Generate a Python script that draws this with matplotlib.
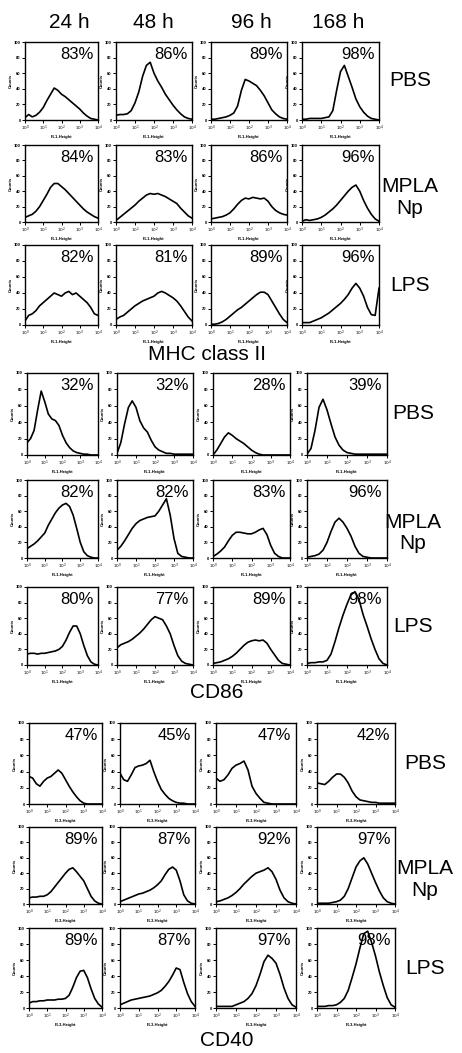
import matplotlib.pyplot as plt
import numpy as np

plt.rcParams['font.family'] = ['Liberation Sans', 'DejaVu Sans']

# column / row / block labels
times = ["24 h", "48 h", "96 h", "168 h"]
treatments = ["PBS", "MPLA\nNp", "LPS"]
markers = ["MHC class II", "CD86", "CD40"]
channels = ["FL1-Height", "FL1-Height", "FL3-Height"]

# fluorescence position in decades (10^0 .. 10^4), read every 0.2 decade
decades = [0.0, 0.2, 0.4, 0.6, 0.8, 1.0, 1.2, 1.4, 1.6, 1.8, 2.0,
           2.2, 2.4, 2.6, 2.8, 3.0, 3.2, 3.4, 3.6, 3.8, 4.0]

# percent positive cells, [treatment][time]
mhc_pct = [[83, 86, 89, 98], [84, 83, 86, 96], [82, 81, 89, 96]]
cd86_pct = [[32, 32, 28, 39], [82, 82, 83, 96], [80, 77, 89, 98]]
cd40_pct = [[47, 45, 47, 42], [89, 87, 92, 97], [89, 87, 97, 98]]

# histogram counts (% of axis max), [time][bin]
mhc_pbs = [
    [3, 7, 4, 6, 10, 16, 25, 33, 41, 38, 33, 30, 26, 22, 18, 14, 9, 5, 2, 1, 0],
    [6, 7, 7, 8, 12, 22, 36, 56, 70, 74, 60, 50, 42, 33, 26, 19, 13, 8, 4, 2, 1],
    [1, 1, 2, 3, 4, 6, 9, 18, 38, 52, 50, 47, 44, 38, 31, 22, 13, 8, 4, 2, 1],
    [1, 1, 2, 2, 2, 2, 3, 4, 12, 38, 62, 70, 56, 42, 27, 17, 10, 5, 2, 1, 0],
]
mhc_mpla = [
    [6, 8, 10, 14, 20, 28, 36, 45, 50, 50, 46, 42, 37, 32, 27, 22, 17, 13, 10, 7, 5],
    [2, 6, 10, 14, 18, 22, 27, 31, 35, 37, 36, 37, 35, 33, 30, 27, 24, 18, 13, 8, 5],
    [4, 5, 6, 7, 9, 12, 17, 23, 28, 31, 30, 32, 31, 30, 31, 27, 20, 15, 12, 10, 9],
    [1, 3, 2, 3, 4, 6, 9, 13, 17, 22, 28, 34, 40, 45, 48, 40, 28, 18, 10, 4, 1],
]
mhc_lps = [
    [5, 12, 14, 18, 24, 28, 32, 36, 40, 38, 36, 40, 42, 38, 40, 36, 32, 28, 22, 14, 12],
    [7, 10, 12, 16, 20, 24, 27, 30, 32, 34, 36, 40, 42, 40, 37, 34, 30, 24, 17, 10, 5],
    [1, 1, 2, 4, 7, 11, 15, 19, 22, 26, 30, 34, 38, 41, 41, 38, 30, 22, 14, 7, 3],
    [3, 3, 3, 5, 7, 9, 12, 15, 19, 23, 27, 32, 38, 46, 52, 46, 36, 22, 13, 12, 46],
]
cd86_pbs = [
    [15, 20, 30, 55, 78, 65, 50, 44, 42, 36, 24, 15, 9, 5, 3, 2, 1, 1, 0, 0, 0],
    [2, 15, 38, 58, 66, 58, 42, 33, 28, 18, 10, 6, 4, 2, 2, 1, 1, 1, 1, 1, 1],
    [0, 6, 14, 22, 27, 24, 20, 17, 14, 10, 6, 3, 1, 0, 0, 0, 0, 0, 0, 0, 0],
    [1, 8, 30, 58, 68, 55, 38, 22, 12, 6, 3, 2, 1, 1, 1, 1, 1, 1, 1, 1, 1],
]
cd86_mpla = [
    [12, 15, 18, 22, 27, 32, 42, 50, 58, 64, 68, 70, 66, 55, 38, 20, 8, 3, 1, 0, 0],
    [10, 15, 22, 30, 38, 44, 48, 50, 52, 53, 54, 60, 68, 76, 55, 25, 6, 2, 1, 0, 0],
    [2, 5, 9, 14, 22, 29, 33, 33, 32, 31, 31, 33, 36, 38, 30, 16, 6, 2, 0, 0, 0],
    [1, 2, 3, 5, 10, 20, 34, 46, 51, 46, 38, 28, 15, 6, 2, 1, 0, 0, 0, 0, 0],
]
cd86_lps = [
    [14, 15, 15, 14, 15, 15, 16, 17, 18, 20, 24, 32, 42, 50, 50, 40, 25, 12, 4, 1, 0],
    [22, 26, 28, 30, 33, 37, 41, 46, 52, 58, 62, 60, 58, 50, 40, 25, 12, 5, 2, 1, 0],
    [2, 3, 4, 6, 8, 11, 15, 20, 25, 29, 31, 32, 31, 32, 28, 20, 13, 6, 2, 1, 0],
    [2, 3, 3, 4, 4, 6, 14, 30, 48, 64, 78, 90, 94, 84, 65, 50, 34, 20, 8, 2, 0],
]
cd40_pbs = [
    [34, 32, 25, 22, 28, 32, 34, 38, 42, 38, 30, 22, 15, 9, 4, 1, 0, 0, 0, 0, 0],
    [38, 30, 28, 36, 45, 47, 48, 50, 54, 40, 28, 18, 12, 7, 4, 2, 1, 1, 0, 0, 0],
    [32, 28, 30, 36, 44, 48, 50, 53, 42, 22, 13, 7, 2, 1, 0, 0, 0, 0, 0, 0, 0],
    [26, 25, 24, 28, 33, 37, 37, 33, 26, 16, 9, 5, 4, 3, 2, 2, 1, 1, 1, 1, 1],
]
cd40_mpla = [
    [8, 9, 9, 10, 10, 12, 16, 22, 28, 34, 40, 45, 47, 42, 36, 30, 20, 10, 4, 1, 0],
    [3, 5, 7, 9, 11, 13, 14, 16, 18, 21, 25, 30, 38, 45, 48, 44, 30, 12, 4, 1, 0],
    [3, 4, 6, 8, 11, 15, 20, 26, 31, 36, 40, 42, 44, 47, 42, 32, 18, 8, 3, 1, 0],
    [1, 1, 1, 1, 2, 3, 5, 10, 20, 34, 48, 56, 60, 52, 40, 28, 17, 8, 3, 1, 0],
]
cd40_lps = [
    [6, 8, 8, 9, 9, 10, 10, 10, 11, 11, 12, 16, 26, 38, 46, 47, 38, 24, 12, 5, 1],
    [4, 6, 8, 10, 11, 12, 13, 14, 15, 17, 19, 22, 27, 33, 41, 50, 48, 32, 18, 8, 2],
    [2, 2, 2, 2, 2, 4, 6, 8, 12, 18, 28, 42, 58, 66, 62, 56, 42, 25, 12, 4, 1],
    [2, 2, 2, 3, 3, 4, 7, 12, 22, 38, 55, 75, 93, 96, 82, 65, 45, 28, 13, 4, 1],
]

blocks = [
    (mhc_pct, [mhc_pbs, mhc_mpla, mhc_lps]),
    (cd86_pct, [cd86_pbs, cd86_mpla, cd86_lps]),
    (cd40_pct, [cd40_pbs, cd40_mpla, cd40_lps]),
]

# layout in pixels
W, H = 462, 1053
col_px = [
    [(25, 98), (116, 192), (211, 287), (302, 379)],
    [(27, 98), (117, 193), (213, 290), (307, 387)],
    [(29, 102), (120, 195), (216, 296), (317, 395)],
]
row_px = [
    [(42, 120), (145, 222), (245, 325)],
    [(373, 455), (480, 558), (587, 665)],
    [(723, 804), (827, 904), (928, 1008)],
]
label_x = [410, 413, 425]
marker_pos = [(207, 354), (217, 692), (227, 1041)]
header_x = [69, 153, 251, 338]

fig = plt.figure(figsize=(W / 100, H / 100), dpi=100)
fig.patch.set_facecolor("white")

xs = 10 ** np.array(decades)

for b, (pct, series) in enumerate(blocks):
    for r in range(3):
        top, bot = row_px[b][r]
        for c in range(4):
            left, right = col_px[b][c]
            ax = fig.add_axes([left / W, 1 - bot / H, (right - left) / W, (bot - top) / H])
            ax.plot(xs, series[r][c], color="black", lw=1.2)
            ax.set_xscale("log")
            ax.set_xlim(1, 1e4)
            ax.set_ylim(0, 100)
            ax.set_xticks([1, 10, 100, 1000, 10000])
            ax.set_xticklabels(["$10^0$", "$10^1$", "$10^2$", "$10^3$", "$10^4$"])
            ax.minorticks_off()
            ax.set_yticks([0, 20, 40, 60, 80, 100])
            ax.set_yticklabels(["0", "20", "40", "60", "80", "100"])
            ax.tick_params(length=2, width=0.7, labelsize=3, pad=1)
            for lab in ax.get_xticklabels() + ax.get_yticklabels():
                lab.set_fontweight("bold")
            ax.set_xlabel(channels[b], fontsize=3, labelpad=1, fontweight="bold")
            ax.set_ylabel("Counts", fontsize=3, labelpad=1, fontweight="bold")
            for s in ax.spines.values():
                s.set_linewidth(1.0)
            ax.text(0.94, 0.94, f"{pct[r][c]}%", transform=ax.transAxes,
                    ha="right", va="top", fontsize=12)
        yc = (top + bot) / 2
        if r == 1:
            yc += 14
        fig.text(label_x[b] / W, 1 - yc / H, treatments[r], ha="center",
                 va="center", fontsize=15, linespacing=1.15)
    mx, my = marker_pos[b]
    fig.text(mx / W, 1 - my / H, markers[b], ha="center", va="center", fontsize=15)

for c, t in enumerate(times):
    fig.text(header_x[c] / W, 1 - 22 / H, t, ha="center", va="center", fontsize=15)

fig.savefig("out.png", dpi=100)
